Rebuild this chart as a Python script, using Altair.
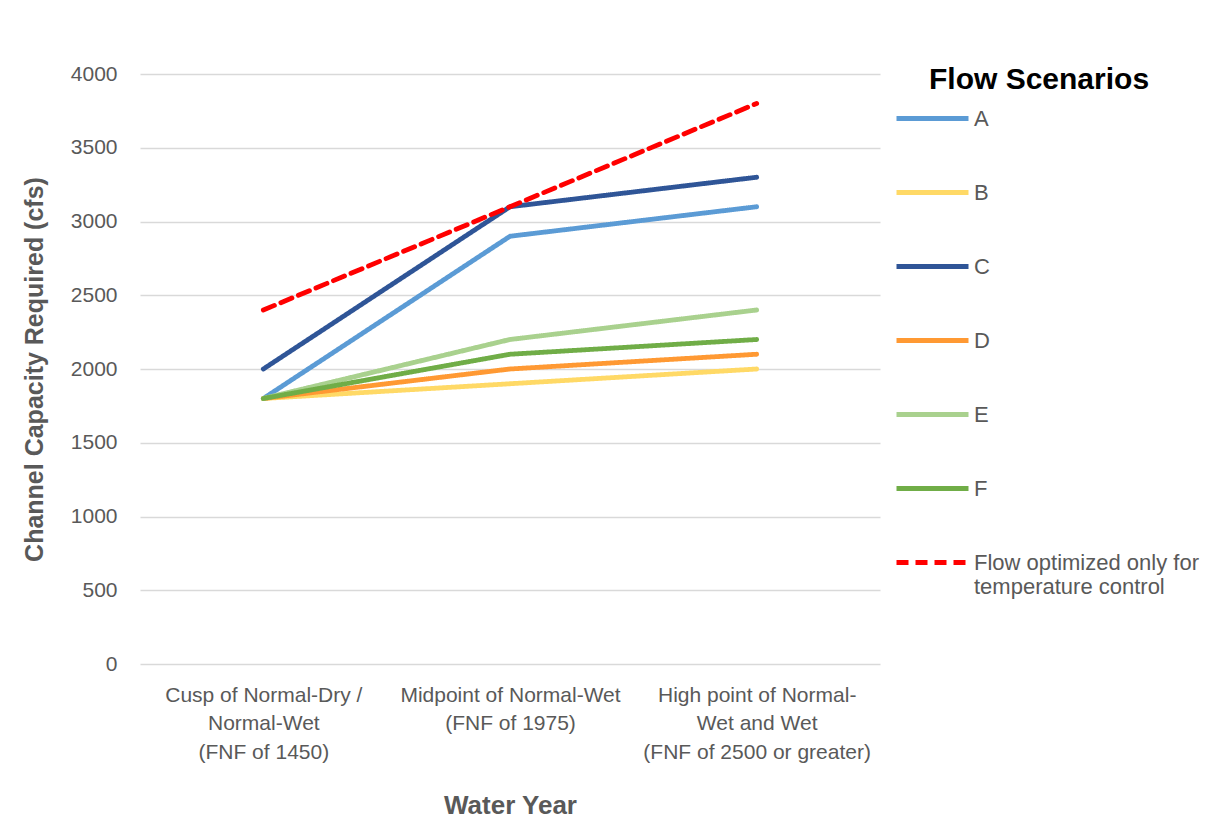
import altair as alt
import pandas as pd

categories = [
    "Cusp of Normal-Dry /|Normal-Wet|(FNF of 1450)",
    "Midpoint of Normal-Wet|(FNF of 1975)",
    "High point of Normal-|Wet and Wet|(FNF of 2500 or greater)",
]
series_names = ["A", "B", "C", "D", "E", "F", "Flow optimized only for temperature control"]
values_A = [1800, 2900, 3100]
values_B = [1800, 1900, 2000]
values_C = [2000, 3100, 3300]
values_D = [1800, 2000, 2100]
values_E = [1800, 2200, 2400]
values_F = [1800, 2100, 2200]
values_T = [2400, 3100, 3800]
colors = ["#5B9BD5", "#FFD966", "#2F5597", "#FF9933", "#A9D18E", "#70AD47", "#FF0000"]
dashes = [[1, 0], [1, 0], [1, 0], [1, 0], [1, 0], [1, 0], [12, 7]]

all_vals = [values_A, values_B, values_C, values_D, values_E, values_F, values_T]
rows = []
for name, vals in zip(series_names, all_vals):
    for cat, v in zip(categories, vals):
        rows.append({"cat": cat, "series": name, "value": v})
df = pd.DataFrame(rows)

gray = "#595959"
font = "Liberation Sans Narrow, Liberation Sans, Arial"

chart = alt.Chart(df, title=alt.TitleParams(
    "Flow Scenarios", anchor="start", frame="group", orient="top",
    fontSize=30, font="Liberation Sans", fontWeight="bold", color="#000000",
    offset=0, dx=789, dy=32,
)).mark_line(strokeWidth=4.8, strokeCap="round", strokeJoin="round").encode(
    x=alt.X("cat:N", sort=categories, scale=alt.Scale(type="point", padding=0.5),
            axis=alt.Axis(title="Water Year", labelAngle=0,
                          labelExpr="split(datum.label, '|')",
                          labelFontSize=21, labelColor=gray, labelFont=font,
                          labelLineHeight=28.5, labelPadding=20, labelLimit=400,
                          titleFontSize=26, titleColor=gray, titleFont="Liberation Sans",
                          titleFontWeight="bold", titlePadding=30,
                          domain=False, ticks=False, grid=False)),
    y=alt.Y("value:Q", scale=alt.Scale(domain=[0, 4000]),
            axis=alt.Axis(title="Channel Capacity Required (cfs)", values=list(range(0, 4001, 500)),
                          format="d",
                          labelFontSize=21, labelColor=gray, labelFont="Liberation Sans",
                          labelPadding=23, titleFontSize=25, titleColor=gray,
                          titleFont="Liberation Sans", titleFontWeight="bold", titlePadding=23,
                          domain=False, ticks=False, grid=True, gridColor="#D9D9D9",
                          gridWidth=1.5)),
    color=alt.Color("series:N", sort=series_names,
                    scale=alt.Scale(domain=series_names, range=colors),
                    legend=alt.Legend(
                        title=None, orient="none", legendX=754, legendY=6,
                        symbolType="stroke", symbolSize=5184, symbolStrokeWidth=4.8,
                        labelFontSize=22, labelColor=gray, labelFont=font,
                        labelLimit=400, rowPadding=24, labelOffset=3,
                        labelExpr="datum.label == 'Flow optimized only for temperature control' ? ['Flow optimized only for', 'temperature control'] : datum.label",
                    )),
    strokeDash=alt.StrokeDash("series:N", sort=series_names,
                              scale=alt.Scale(domain=series_names, range=dashes),
                              legend=None),
).properties(
    width=740, height=590,
    padding={"left": 14, "top": 55, "right": 5, "bottom": 5},
).configure_view(stroke=None)

chart.save("out.html", embed_options={"renderer": "svg", "actions": False})
